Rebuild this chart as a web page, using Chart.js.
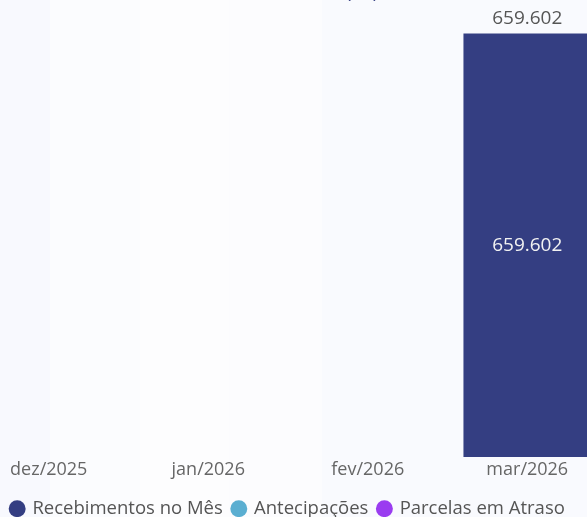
<!DOCTYPE html>
<html>
<head>
<meta charset="utf-8">
<script src="https://cdn.jsdelivr.net/npm/chart.js@4.4.1/dist/chart.umd.min.js"></script>
<style>
    html, body { margin: 0; padding: 0; }
    #wrap {
        position: relative;
        width: 587px;
        height: 517px;
        overflow: hidden;
        background: linear-gradient(to right,
            #f8f9fe 0, #f8f9fe 50px,
            #fbfcfe 50px, #fbfcfe 140px,
            #fdfdfe 140px, #fdfdfe 229px,
            #fcfcfe 229px, #fcfcfe 322px,
            #f9fafe 322px, #f9fafe 587px);
    }
    #chart { position: absolute; left: -31px; top: -28px; }
</style>
</head>
<body>
<div id="wrap">
    <canvas id="chart" width="638" height="556"></canvas>
</div>
<script>
// Months on the x axis
const months = ['dez/2025', 'jan/2026', 'fev/2026', 'mar/2026'];

// Series values (R$)
const recebimentos = [null, null, null, 659602];
const antecipacoes = [null, null, null, null];
const atrasos = [null, null, null, null];

// Series colours
const seriesColors = ['#343e82', '#5aaed1', '#9a3cf0'];

const fontFamily = "'Segoe UI', 'Open Sans', sans-serif";

// Format number as pt-BR (dot thousands)
function formatBR(v) {
    return String(Math.round(v)).replace(/\B(?=(\d{3})+(?!\d))/g, '.');
}

// Draws segment value inside bar and stack total above
const barLabels = {
    id: 'barLabels',
    afterDatasetsDraw(chart) {
        const ctx = chart.ctx;
        ctx.save();
        ctx.font = '19px ' + fontFamily;
        ctx.textAlign = 'center';
        ctx.textBaseline = 'middle';

        months.forEach((m, i) => {
            let total = 0;
            let topY = null;
            let x = null;
            chart.data.datasets.forEach((ds, d) => {
                const v = ds.data[i];
                if (v === null || v === undefined) return;
                const bar = chart.getDatasetMeta(d).data[i];
                total += v;
                x = bar.x;
                topY = topY === null ? bar.y : Math.min(topY, bar.y);
                ctx.fillStyle = '#f2f2f2';
                ctx.fillText(formatBR(v), bar.x, (bar.y + bar.base) / 2);
            });
            if (topY !== null) {
                ctx.fillStyle = '#555555';
                ctx.fillText(formatBR(total), x, topY - 15);
            }
        });
        ctx.restore();
    }
};

new Chart(document.getElementById('chart'), {
    type: 'bar',
    data: {
        labels: months,
        datasets: [
            { label: 'Recebimentos no Mês', data: recebimentos, backgroundColor: seriesColors[0] },
            { label: 'Antecipações', data: antecipacoes, backgroundColor: seriesColors[1] },
            { label: 'Parcelas em Atraso', data: atrasos, backgroundColor: seriesColors[2] }
        ]
    },
    options: {
        responsive: false,
        animation: false,
        datasets: {
            bar: { barPercentage: 1, categoryPercentage: 0.8 }
        },
        layout: { padding: 0 },
        scales: {
            x: {
                stacked: true,
                grid: { display: false, drawTicks: false },
                border: { display: false },
                ticks: {
                    color: '#666666',
                    padding: 2,
                    font: { family: fontFamily, size: 18 }
                },
                afterFit(scale) { scale.height += 7; }
            },
            y: {
                stacked: true,
                display: false,
                min: 0,
                max: 700000
            }
        },
        plugins: {
            title: {
                display: true,
                text: 'Recebido no Mês (R$)',
                color: '#343e82',
                padding: { top: 10, bottom: 4 },
                font: { family: fontFamily, size: 18, weight: 'normal' }
            },
            legend: {
                position: 'bottom',
                labels: {
                    usePointStyle: true,
                    pointStyle: 'circle',
                    boxWidth: 12,
                    boxHeight: 12,
                    padding: 10,
                    color: '#555555',
                    font: { family: fontFamily, size: 18.5 }
                }
            },
            tooltip: { enabled: false }
        }
    },
    plugins: [barLabels]
});
</script>
</body>
</html>
